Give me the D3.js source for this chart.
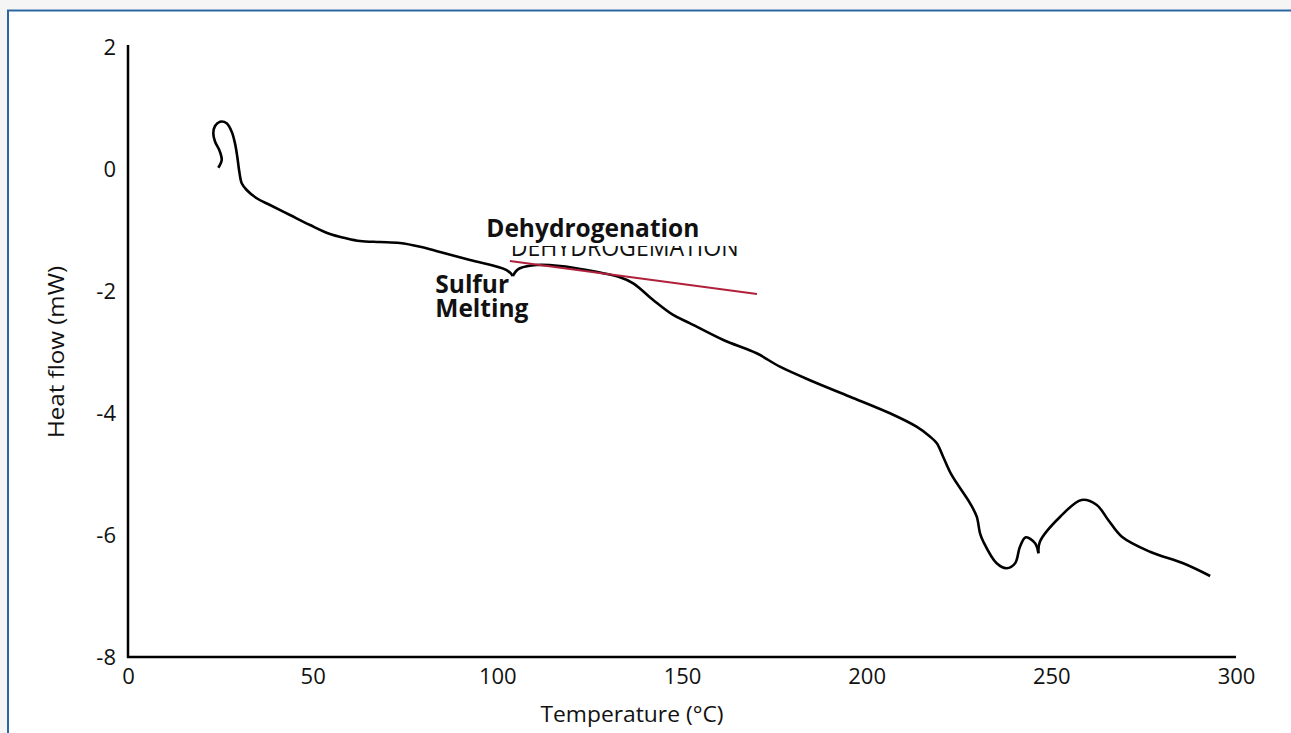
<!DOCTYPE html>
<html>
<head>
<meta charset="utf-8">
<script src="https://cdn.jsdelivr.net/npm/d3@7"></script>
<style>
  html, body { margin: 0; padding: 0; background: #fff; }
  svg { display: block; }
  text { font-family: "Open Sans", "Noto Sans", sans-serif; fill: #111; }
</style>
</head>
<body>
<svg id="chart" width="1291" height="733"></svg>
<script>
// ---- data ----
const xTicks = [0, 50, 100, 150, 200, 250, 300];
const yTicks = [2, 0, -2, -4, -6, -8];
const xTitle = "Temperature (°C)";
const yTitle = "Heat flow (mW)";

// DSC trace split at its two sharp cusps
const curveSeg1Temp = [24.45, 25.37, 24.72, 23.56, 23.10, 23.56, 24.91, 26.72, 28.08, 28.97, 29.59, 30.14, 30.79, 32.14, 34.85, 38.45, 43.86, 49.28, 54.69, 58.76, 62.8, 68.2, 73.6, 79.1, 84.5, 92.6, 102.5, 104.2];
const curveSeg1Flow = [0.02, 0.15, 0.31, 0.45, 0.585, 0.705, 0.775, 0.75, 0.61, 0.42, 0.20, -0.044, -0.234, -0.344, -0.48, -0.59, -0.754, -0.918, -1.066, -1.131, -1.18, -1.197, -1.213, -1.274, -1.361, -1.492, -1.656, -1.754];
const curveSeg2Temp = [104.2, 105.1, 106.1, 110.7, 117.0, 124.2, 133.2, 136.8, 142.2, 147.6, 152.2, 161.2, 170.2, 176.5, 185.6, 195.5, 206.3, 213.5, 217.2, 219.0, 220.7, 223.0, 228.0, 229.8, 230.7, 231.6, 235.2, 237.9, 240.2, 241.5, 243.1, 245.6, 246.5];
const curveSeg2Flow = [-1.754, -1.672, -1.628, -1.574, -1.59, -1.656, -1.775, -1.874, -2.148, -2.393, -2.53, -2.803, -3.021, -3.241, -3.487, -3.733, -4.005, -4.225, -4.389, -4.497, -4.716, -5.016, -5.48, -5.70, -5.972, -6.11, -6.464, -6.546, -6.464, -6.192, -6.038, -6.136, -6.30];
const curveSeg3Temp = [246.5, 246.9, 252.4, 258.2, 262.3, 265.4, 269.1, 276.7, 285.7, 293.0];
const curveSeg3Flow = [-6.30, -6.11, -5.70, -5.426, -5.508, -5.754, -6.028, -6.274, -6.464, -6.672];

// red tangent line (dehydrogenation baseline)
const tangentTemp = [103.4, 170.3];
const tangentFlow = [-1.508, -2.049];

// annotations
const annotations = [
  { text: "Dehydrogenation", t: 97.0, f: -1.12 },
  { text: "Sulfur", t: 83.2, f: -2.03 },
  { text: "Melting", t: 83.2, f: -2.42 }
];
const clippedLabel = { text: "DEHYDROGEMATION", t: 103.6, f: -1.434 };

// ---- drawing ----
const svg = d3.select("#chart");
const W = 1291, H = 733;

// frame (page chrome)
svg.append("rect").attr("x", 0).attr("y", 0).attr("width", W).attr("height", H).attr("fill", "#fff");
svg.append("rect").attr("x", 0).attr("y", 0).attr("width", W).attr("height", 9).attr("fill", "#f5f5f5");
svg.append("rect").attr("x", 0).attr("y", 0).attr("width", 7).attr("height", H).attr("fill", "#f5f5f5");
svg.append("line").attr("x1", 7).attr("x2", W).attr("y1", 10.5).attr("y2", 10.5)
  .attr("stroke", "#2a67a0").attr("stroke-width", 2);
svg.append("line").attr("x1", 8).attr("x2", 8).attr("y1", 10).attr("y2", H)
  .attr("stroke", "#2a67a0").attr("stroke-width", 2);

const x = d3.scaleLinear().domain([0, 300]).range([128, 1236]);
const y = d3.scaleLinear().domain([-8, 2]).range([657, 47]);

// axes
const xAxis = d3.axisBottom(x).tickValues(xTicks).tickSize(0).tickSizeOuter(0).tickPadding(11)
  .tickFormat(d => String(d));
const yAxis = d3.axisLeft(y).tickValues(yTicks).tickSize(0).tickSizeOuter(0).tickPadding(12)
  .tickFormat(d => String(d));

const gx = svg.append("g").attr("transform", `translate(0,${y(-8)})`).call(xAxis);
const gy = svg.append("g").attr("transform", `translate(${x(0)},0)`).call(yAxis);
[gx, gy].forEach(g => {
  g.attr("font-size", null).attr("font-family", null);
  g.select(".domain").attr("stroke", "#000").attr("stroke-width", 2.5);
  g.selectAll("text").style("font-family", "'Open Sans', sans-serif").style("font-size", "22px").attr("fill", "#111");
});
gy.select(".domain").attr("d", `M0,${y(-8) + 1}V45`);
gx.select(".domain").attr("d", `M${x(0) - 1},0H${x(300)}`);

// axis titles
svg.append("text").attr("x", 632).attr("y", 722).attr("text-anchor", "middle")
  .style("font-size", "22px").attr("textLength", 183).attr("lengthAdjust", "spacingAndGlyphs").text(xTitle);
svg.append("text").attr("transform", "translate(64,352) rotate(-90)").attr("text-anchor", "middle")
  .style("font-size", "22px").attr("textLength", 172).attr("lengthAdjust", "spacingAndGlyphs").text(yTitle);

// DSC curve
const line = d3.line().x(d => x(d[0])).y(d => y(d[1])).curve(d3.curveCatmullRom.alpha(0.5));
const segs = [
  d3.zip(curveSeg1Temp, curveSeg1Flow),
  d3.zip(curveSeg2Temp, curveSeg2Flow),
  d3.zip(curveSeg3Temp, curveSeg3Flow)
];
svg.append("g").selectAll("path").data(segs).join("path")
  .attr("d", line).attr("fill", "none").attr("stroke", "#000")
  .attr("stroke-width", 2.6).attr("stroke-linejoin", "round").attr("stroke-linecap", "butt");

// tangent
svg.append("line")
  .attr("x1", x(tangentTemp[0])).attr("y1", y(tangentFlow[0]))
  .attr("x2", x(tangentTemp[1])).attr("y2", y(tangentFlow[1]))
  .attr("stroke", "#b0213b").attr("stroke-width", 2.2);

// clipped label (only its lower part shows)
svg.append("clipPath").attr("id", "clipLabel").append("rect")
  .attr("x", 490).attr("y", 246).attr("width", 280).attr("height", 20);
svg.append("text").attr("clip-path", "url(#clipLabel)")
  .attr("x", x(clippedLabel.t)).attr("y", y(clippedLabel.f))
  .style("font-size", "25px").attr("textLength", 228).attr("lengthAdjust", "spacingAndGlyphs")
  .attr("fill", "#000").text(clippedLabel.text);

// bold annotations
svg.append("g").selectAll("text").data(annotations).join("text")
  .attr("x", d => x(d.t)).attr("y", d => y(d.f))
  .style("font-size", "24.5px").style("font-weight", 700).attr("fill", "#231f20")
  .text(d => d.text);
</script>
</body>
</html>
